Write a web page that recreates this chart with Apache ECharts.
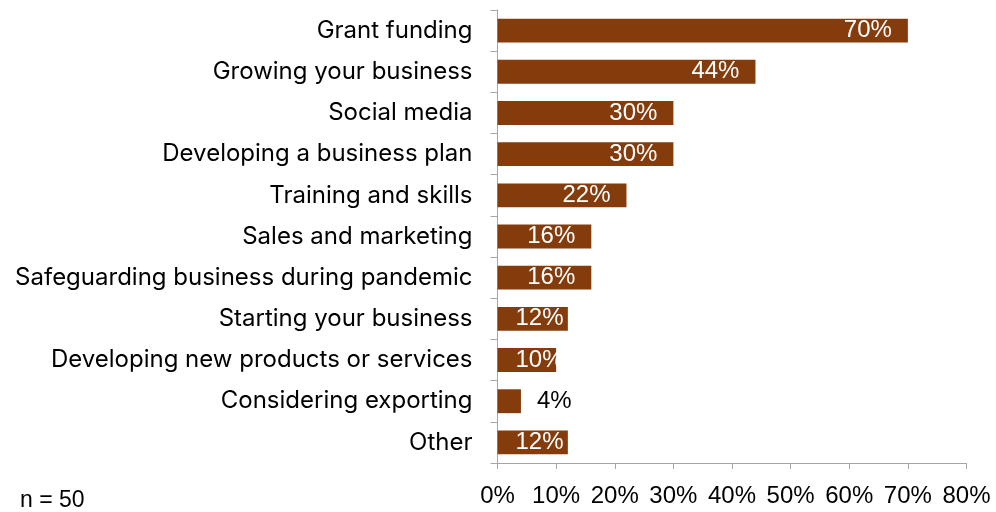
<!DOCTYPE html>
<html>
<head>
<meta charset="utf-8">
<script src="https://cdn.jsdelivr.net/npm/echarts@6/dist/echarts.min.js"></script>
<style>
  html, body { margin: 0; padding: 0; background: #ffffff; }
  #chart { width: 996px; height: 512px; }
</style>
</head>
<body>
<div id="chart"></div>
<script>
// Support topics requested, top to bottom
const categories = [
  'Grant funding',
  'Growing your business',
  'Social media',
  'Developing a business plan',
  'Training and skills',
  'Sales and marketing',
  'Safeguarding business during pandemic',
  'Starting your business',
  'Developing new products or services',
  'Considering exporting',
  'Other'
];
// Share of respondents (%)
const shares = [70, 44, 30, 30, 22, 16, 16, 12, 10, 4, 12];
const xTicks = [0, 10, 20, 30, 40, 50, 60, 70, 80];
const sampleNote = 'n = 50';

const TEXTFONT = 'Inter, "Liberation Sans", Arial, sans-serif';
const NUMFONT = '"Liberation Sans", Arial, sans-serif';
const BAR = '#843c0c';
const AXIS = '#a6a6a6';

// Label placement depends on how much room the bar leaves
function labelFor(v) {
  if (v >= 16) return { position: 'insideRight', distance: 16, color: '#ffffff' };
  if (v >= 8) return { position: 'insideLeft', distance: 18, color: '#ffffff' };
  return { position: 'right', distance: 16, color: '#000000' };
}

const chart = echarts.init(document.getElementById('chart'), null, { renderer: 'canvas' });
chart.setOption({
  animation: false,
  backgroundColor: '#ffffff',
  grid: { left: 497.5, right: 29.5, top: 10, bottom: 49, containLabel: false },
  xAxis: {
    type: 'value',
    min: xTicks[0],
    max: xTicks[xTicks.length - 1],
    interval: 10,
    axisLine: { show: true, lineStyle: { color: AXIS, width: 1 } },
    axisTick: { show: true, length: 6, lineStyle: { color: AXIS } },
    splitLine: { show: false },
    axisLabel: {
      formatter: v => v + '%',
      color: '#000000',
      fontFamily: NUMFONT,
      fontSize: 24,
      margin: 21
    }
  },
  yAxis: {
    type: 'category',
    data: categories,
    inverse: true,
    axisLine: { show: true, lineStyle: { color: AXIS, width: 1 } },
    axisTick: { show: true, length: 7, lineStyle: { color: AXIS } },
    axisLabel: {
      color: '#000000',
      fontFamily: TEXTFONT,
      fontSize: 24,
      margin: 25
    }
  },
  series: [{
    type: 'bar',
    barCategoryGap: '42%',
    itemStyle: { color: BAR },
    data: shares.map(v => ({
      value: v,
      label: Object.assign({
        show: true,
        formatter: p => p.value + '%',
        fontFamily: NUMFONT,
        fontSize: 24
      }, labelFor(v))
    }))
  }],
  graphic: [{
    type: 'text',
    left: 20,
    top: 489,
    style: { text: sampleNote, fill: '#000000', font: '23px ' + NUMFONT }
  }]
});
</script>
</body>
</html>
